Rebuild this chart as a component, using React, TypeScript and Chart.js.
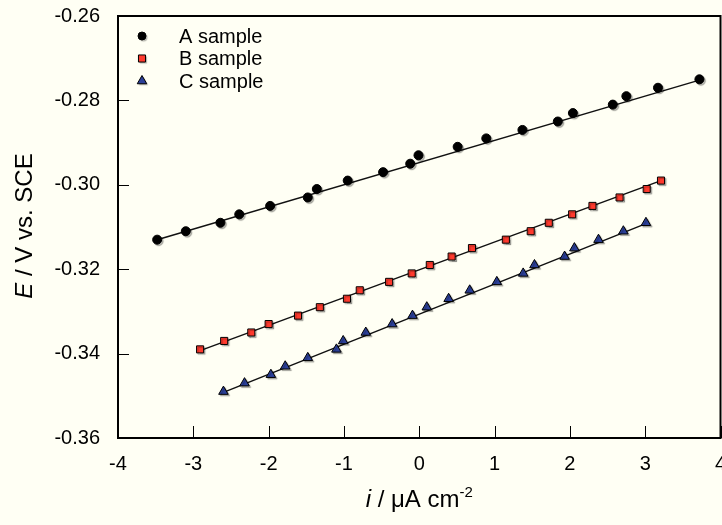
import React, { useEffect, useRef } from "react";
import { Chart, registerables } from "chart.js";

Chart.register(...registerables);

const FONT = "'Liberation Sans', Arial, Helvetica, sans-serif";
const BG = "#FFFFF4";
const VIEW_W = 722;
const CANVAS_W = 727;
const CANVAS_H = 525;

// Axis ticks
const xTickValues = [-4, -3, -2, -1, 0, 1, 2, 3, 4];
const yTickValues = [-0.36, -0.34, -0.32, -0.3, -0.28, -0.26];

// Series labels
const seriesLabels = ["A sample", "B sample", "C sample"];

// A sample (current density i, potential E)
const sampleA_i = [-3.48, -3.1, -2.64, -2.39, -1.98, -1.48, -1.36, -0.95, -0.48, -0.12, -0.01, 0.51, 0.89, 1.37, 1.84, 2.04, 2.57, 2.75, 3.17, 3.72];
const sampleA_E = [-0.313, -0.311, -0.309, -0.307, -0.305, -0.303, -0.301, -0.299, -0.297, -0.295, -0.293, -0.291, -0.289, -0.287, -0.285, -0.283, -0.281, -0.279, -0.277, -0.275];

// B sample
const sampleB_i = [-2.91, -2.59, -2.23, -2.0, -1.61, -1.32, -0.96, -0.79, -0.4, -0.1, 0.14, 0.43, 0.7, 1.15, 1.48, 1.72, 2.03, 2.3, 2.66, 3.02, 3.21];
const sampleB_E = [-0.339, -0.337, -0.335, -0.333, -0.331, -0.329, -0.327, -0.325, -0.323, -0.321, -0.319, -0.317, -0.315, -0.313, -0.311, -0.309, -0.307, -0.305, -0.303, -0.301, -0.299];

// C sample
const sampleC_i = [-2.6, -2.32, -1.97, -1.78, -1.48, -1.1, -1.01, -0.71, -0.36, -0.09, 0.1, 0.39, 0.67, 1.03, 1.38, 1.53, 1.93, 2.06, 2.38, 2.71, 3.01];
const sampleC_E = [-0.349, -0.347, -0.345, -0.343, -0.341, -0.339, -0.337, -0.335, -0.333, -0.331, -0.329, -0.327, -0.325, -0.323, -0.321, -0.319, -0.317, -0.315, -0.313, -0.311, -0.309];

// Fitted lines (end points)
const fitA_i = [-3.48, 3.72];
const fitA_E = [-0.313, -0.2752];
const fitB_i = [-2.91, 3.21];
const fitB_E = [-0.3393, -0.299];
const fitC_i = [-2.6, 3.01];
const fitC_E = [-0.3492, -0.3092];

const toPts = (xs: number[], ys: number[]) => xs.map((x, k) => ({ x, y: ys[k] }));

const markerStyles = [
  { style: "circle", radius: 4.5, fill: "#000000" },
  { style: "rect", radius: 5, fill: "#FF3A2E" },
  { style: "triangle", radius: 5.5, fill: "#2B3F98" },
];

function setShadow(ctx: CanvasRenderingContext2D) {
  ctx.shadowColor = "rgba(0,0,0,0.28)";
  ctx.shadowOffsetX = 1.5;
  ctx.shadowOffsetY = 1.5;
  ctx.shadowBlur = 1;
}

function drawMarker(ctx: CanvasRenderingContext2D, style: string, r: number, x: number, y: number, fill: string) {
  ctx.save();
  setShadow(ctx);
  ctx.beginPath();
  if (style === "circle") {
    ctx.arc(x, y, r, 0, Math.PI * 2);
  } else if (style === "rect") {
    const s = Math.SQRT1_2 * r;
    ctx.rect(x - s, y - s, 2 * s, 2 * s);
  } else {
    const sx = r * Math.sin((Math.PI * 2) / 3);
    const sy = -r * Math.cos((Math.PI * 2) / 3);
    ctx.moveTo(x, y - r);
    ctx.lineTo(x + sx, y + sy);
    ctx.lineTo(x - sx, y + sy);
    ctx.closePath();
  }
  ctx.fillStyle = fill;
  ctx.fill();
  ctx.shadowColor = "transparent";
  ctx.lineWidth = 1;
  ctx.strokeStyle = "#000";
  ctx.stroke();
  ctx.restore();
}

const decorPlugin = {
  id: "decor",
  beforeDraw(chart: any) {
    const ctx = chart.ctx as CanvasRenderingContext2D;
    ctx.save();
    ctx.fillStyle = BG;
    ctx.fillRect(0, 0, chart.width, chart.height);
    ctx.restore();
  },
  beforeDatasetDraw(chart: any, args: any) {
    const ctx = chart.ctx as CanvasRenderingContext2D;
    ctx.save();
    if (!chart.data.datasets[args.index].showLine) {
      setShadow(ctx);
    }
  },
  afterDatasetDraw(chart: any) {
    chart.ctx.restore();
  },
  afterDraw(chart: any) {
    const ctx = chart.ctx as CanvasRenderingContext2D;
    const { left, right, top, bottom } = chart.chartArea;
    const xs = chart.scales.x;
    const ys = chart.scales.y;
    ctx.save();
    // inward ticks
    ctx.strokeStyle = "#000";
    ctx.lineWidth = 1;
    xTickValues.forEach((v) => {
      const px = Math.round(xs.getPixelForValue(v)) + 0.5;
      ctx.beginPath();
      ctx.moveTo(px, bottom);
      ctx.lineTo(px, bottom - 12);
      ctx.stroke();
    });
    yTickValues.forEach((v) => {
      const py = Math.round(ys.getPixelForValue(v)) + 0.5;
      ctx.beginPath();
      ctx.moveTo(left, py);
      ctx.lineTo(left + 11, py);
      ctx.stroke();
    });
    // frame
    ctx.lineWidth = 2;
    ctx.strokeRect(left, top, right - left, bottom - top);

    // legend
    const rowsY = [36, 58.5, 81];
    ctx.font = `20px ${FONT}`;
    ctx.textBaseline = "middle";
    ctx.textAlign = "left";
    seriesLabels.forEach((lab, k) => {
      const m = markerStyles[k];
      drawMarker(ctx, m.style, m.style === "circle" ? 4 : m.radius, 142, rowsY[k], m.fill);
      ctx.fillStyle = "#000";
      ctx.fillText(lab, 179, rowsY[k] + 1);
    });

    // y axis title (rotated)
    const fItal = `italic 24px ${FONT}`;
    const fNorm = `24px ${FONT}`;
    ctx.save();
    ctx.translate(25, 226);
    ctx.rotate(-Math.PI / 2);
    ctx.textBaseline = "middle";
    ctx.font = fItal;
    const wE = ctx.measureText("E").width;
    ctx.font = fNorm;
    const wRest = ctx.measureText(" / V vs. SCE").width;
    const sx = -(wE + wRest) / 2;
    ctx.fillStyle = "#000";
    ctx.font = fItal;
    ctx.fillText("E", sx, 0);
    ctx.font = fNorm;
    ctx.fillText(" / V vs. SCE", sx + wE, 0);
    ctx.restore();

    // x axis title
    const cx = (left + right) / 2;
    const base = 507;
    ctx.textBaseline = "alphabetic";
    ctx.font = fItal;
    const wi = ctx.measureText("i").width;
    ctx.font = fNorm;
    const wMid = ctx.measureText(" / \u03BCA cm").width;
    ctx.font = `15px ${FONT}`;
    const wSup = ctx.measureText("-2").width;
    let tx = cx - (wi + wMid + wSup) / 2;
    ctx.fillStyle = "#000";
    ctx.font = fItal;
    ctx.fillText("i", tx, base);
    tx += wi;
    ctx.font = fNorm;
    ctx.fillText(" / \u03BCA cm", tx, base);
    tx += wMid;
    ctx.font = `15px ${FONT}`;
    ctx.fillText("-2", tx, base - 10);
    ctx.restore();
  },
};

export default function App() {
  const ref = useRef<HTMLCanvasElement>(null);
  useEffect(() => {
    document.body.style.margin = "0";
    document.body.style.background = BG;
    document.body.style.overflow = "hidden";
    document.documentElement.style.overflow = "hidden";
    const canvas = ref.current!;
    const pointDs = (label: string, xs: number[], ys: number[], k: number) => ({
      label,
      data: toPts(xs, ys),
      showLine: false,
      pointStyle: markerStyles[k].style,
      pointRadius: markerStyles[k].radius,
      pointBackgroundColor: markerStyles[k].fill,
      pointBorderColor: "#000",
      pointBorderWidth: 1,
      order: 0,
    });
    const lineDs = (xs: number[], ys: number[]) => ({
      label: "fit",
      data: toPts(xs, ys),
      showLine: true,
      borderColor: "#111",
      borderWidth: 1.5,
      pointRadius: 0,
      fill: false,
      order: 1,
    });
    const tickFont = { family: FONT, size: 20 };
    const chart = new Chart(canvas, {
      type: "scatter",
      data: {
        datasets: [
          lineDs(fitA_i, fitA_E),
          lineDs(fitB_i, fitB_E),
          lineDs(fitC_i, fitC_E),
          pointDs(seriesLabels[0], sampleA_i, sampleA_E, 0),
          pointDs(seriesLabels[1], sampleB_i, sampleB_E, 1),
          pointDs(seriesLabels[2], sampleC_i, sampleC_E, 2),
        ] as any,
      },
      options: {
        animation: false,
        responsive: false,
        devicePixelRatio: 1,
        layout: { padding: { top: 16, right: 2, left: 0, bottom: 0 } },
        plugins: { legend: { display: false }, tooltip: { enabled: false } },
        scales: {
          x: {
            type: "linear",
            min: -4,
            max: 4,
            grid: { display: false },
            border: { display: false },
            afterBuildTicks: (s: any) => {
              s.ticks = xTickValues.map((v) => ({ value: v }));
            },
            afterFit: (s: any) => {
              s.height = 87;
              s.paddingLeft = 0;
              s.paddingRight = 0;
            },
            ticks: {
              font: tickFont,
              color: "#000",
              padding: 6,
              maxRotation: 0,
              autoSkip: false,
              callback: (v: any) => String(v),
            },
          },
          y: {
            type: "linear",
            min: -0.36,
            max: -0.26,
            grid: { display: false },
            border: { display: false },
            afterBuildTicks: (s: any) => {
              s.ticks = yTickValues.map((v) => ({ value: v }));
            },
            afterFit: (s: any) => {
              s.width = 118;
              s.paddingTop = 0;
              s.paddingBottom = 0;
            },
            ticks: {
              font: tickFont,
              color: "#000",
              padding: 10,
              autoSkip: false,
              callback: (v: any) => Number(v).toFixed(2),
            },
          },
        },
      } as any,
      plugins: [decorPlugin],
    });
    return () => chart.destroy();
  }, []);
  return (
    <div style={{ width: VIEW_W, height: CANVAS_H, overflow: "hidden" }}>
      <canvas ref={ref} width={CANVAS_W} height={CANVAS_H} style={{ display: "block", width: CANVAS_W, height: CANVAS_H }} />
    </div>
  );
}
